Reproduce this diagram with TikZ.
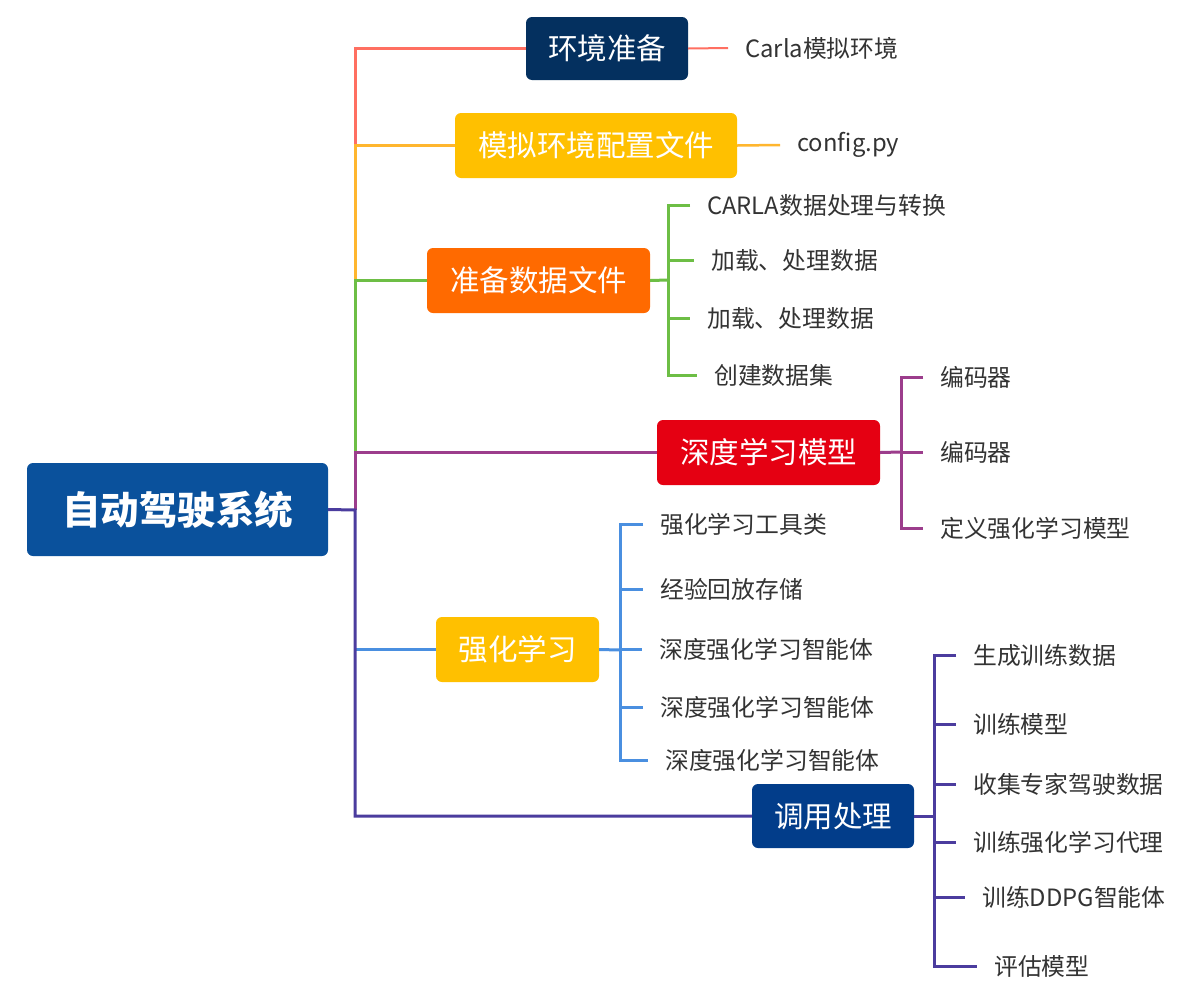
\documentclass[tikz,border=0pt]{standalone}
\usepackage{fontspec}
\setmainfont{Noto Sans CJK SC}
\definecolor{cRed}{HTML}{FF6F61}
\definecolor{cOrange}{HTML}{FFB62E}
\definecolor{cGreen}{HTML}{6DBE45}
\definecolor{cMag}{HTML}{9C3D8C}
\definecolor{cBlue}{HTML}{4A8FE0}
\definecolor{cPurp}{HTML}{4B3C9E}
\definecolor{bNavy}{HTML}{04305F}
\definecolor{bYellow}{HTML}{FFC000}
\definecolor{bOrange}{HTML}{FF6A00}
\definecolor{bRed}{HTML}{E50012}
\definecolor{bBlue}{HTML}{023D8A}
\definecolor{bRoot}{HTML}{0A519C}
\definecolor{txt}{HTML}{333333}
\begin{document}
\begin{tikzpicture}[x=1pt,y=-1pt,
  box/.style={rounded corners=6pt,inner sep=0pt,text=white,font=\fontsize{29.5}{31}\selectfont},
  leaf/.style={anchor=west,inner xsep=17pt,inner ysep=0pt,text=txt,font=\fontsize{23.8}{25}\selectfont},
  conn/.style={line width=3pt}]
\useasboundingbox[fill=white] (0,0) rectangle (1202,983);
% root
\node[box,fill=bRoot,minimum width=301pt,minimum height=93pt,font=\fontsize{38.5}{40}\selectfont\bfseries] (root) at (177.5,509.5) {自动驾驶系统};
\coordinate (J) at (355,510);
% level 1 boxes
\node[box,fill=bNavy,minimum width=162pt,minimum height=63pt] (b1) at (607,48.5) {环境准备};
\node[box,fill=bYellow,minimum width=282pt,minimum height=65pt] (b2) at (596,145.5) {模拟环境配置文件};
\node[box,fill=bOrange,minimum width=223pt,minimum height=65pt] (b3) at (538.5,280.5) {准备数据文件};
\node[box,fill=bRed,minimum width=223pt,minimum height=65pt] (b4) at (768.5,452.5) {深度学习模型};
\node[box,fill=bYellow,minimum width=163pt,minimum height=65pt] (b5) at (517.5,649.5) {强化学习};
\node[box,fill=bBlue,minimum width=162pt,minimum height=64pt] (b6) at (833,816) {调用处理};
% trunk
\draw[conn,cRed,line join=miter] (b1.west) -- (b1.west -| J) -- (b2.west -| J);
\draw[conn,cOrange] (b2.west) -- (b2.west -| J) -- (b3.west -| J);
\draw[conn,cGreen] (b3.west) -- (b3.west -| J) -- (b4.west -| J);
\draw[conn,cMag] (b4.west) -- (b4.west -| J) -- (J);
\draw[conn,cBlue] (b5.west) -- (b5.west -| J);
\draw[conn,cPurp] (root.east) -- (J) -- (b6.west -| J) -- (b6.west);
% branch 1
\node[leaf] (l11) at (728,48) {Carla模拟环境};
\draw[conn,cRed,line width=2pt] (b1.east) -- (l11.west);
% branch 2
\node[leaf] (l21) at (780,145) {config.py};
\draw[conn,cOrange,line width=2.5pt] (b2.east) -- (l21.west);
% branch 3
\coordinate (K3) at (668,280);
\node[leaf] (l31) at (690,205) {CARLA数据处理与转换};
\node[leaf] (l32) at (694,260) {加载、处理数据};
\node[leaf] (l33) at (690,318) {加载、处理数据};
\node[leaf] (l34) at (697,375) {创建数据集};
\draw[conn,cGreen] (b3.east) -- (K3);
\draw[conn,cGreen] (l31.west) -- (l31.west -| K3) -- (l34.west -| K3) -- (l34.west);
\draw[conn,cGreen] (l32.west -| K3) -- (l32.west);
\draw[conn,cGreen] (l33.west -| K3) -- (l33.west);
% branch 4
\coordinate (K4) at (901,452);
\node[leaf] (l41) at (923,377) {编码器};
\node[leaf] (l42) at (923,452) {编码器};
\node[leaf] (l43) at (923,528) {定义强化学习模型};
\draw[conn,cMag] (b4.east) -- (K4);
\draw[conn,cMag] (l41.west) -- (l41.west -| K4) -- (l43.west -| K4) -- (l43.west);
\draw[conn,cMag] (l42.west -| K4) -- (l42.west);
% branch 5
\coordinate (K5) at (620,650);
\node[leaf] (l51) at (643,524) {强化学习工具类};
\node[leaf] (l52) at (643,589) {经验回放存储};
\node[leaf] (l53) at (642,649) {深度强化学习智能体};
\node[leaf] (l54) at (643,707) {深度强化学习智能体};
\node[leaf] (l55) at (648,760) {深度强化学习智能体};
\draw[conn,cBlue] (b5.east) -- (K5);
\draw[conn,cBlue] (l51.west) -- (l51.west -| K5) -- (l55.west -| K5) -- (l55.west);
\draw[conn,cBlue] (l52.west -| K5) -- (l52.west);
\draw[conn,cBlue] (l53.west -| K5) -- (l53.west);
\draw[conn,cBlue] (l54.west -| K5) -- (l54.west);
% branch 6
\coordinate (K6) at (934,816);
\node[leaf] (l61) at (956,655) {生成训练数据};
\node[leaf] (l62) at (956,724) {训练模型};
\node[leaf] (l63) at (956,784) {收集专家驾驶数据};
\node[leaf] (l64) at (956,842) {训练强化学习代理};
\node[leaf] (l65) at (965,897) {训练DDPG智能体};
\node[leaf] (l66) at (977,966) {评估模型};
\draw[conn,cPurp] (b6.east) -- (K6);
\draw[conn,cPurp] (l61.west) -- (l61.west -| K6) -- (l66.west -| K6) -- (l66.west);
\draw[conn,cPurp] (l62.west -| K6) -- (l62.west);
\draw[conn,cPurp] (l63.west -| K6) -- (l63.west);
\draw[conn,cPurp] (l64.west -| K6) -- (l64.west);
\draw[conn,cPurp] (l65.west -| K6) -- (l65.west);
\end{tikzpicture}
\end{document}
